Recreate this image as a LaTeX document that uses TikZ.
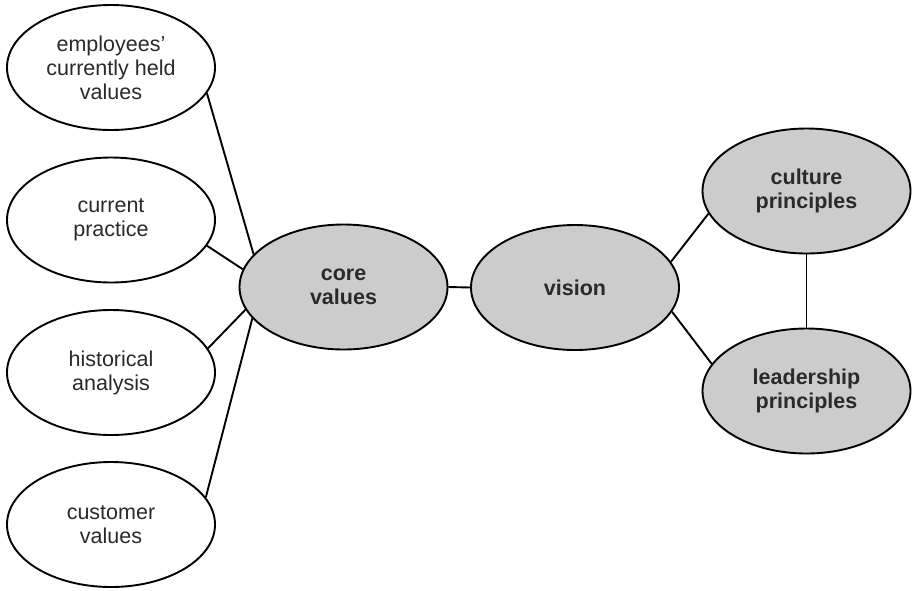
\documentclass[tikz,border=0pt]{standalone}
\usepackage{fontspec}
\setmainfont{Liberation Sans}
\usetikzlibrary{shapes.geometric}
\definecolor{fillgray}{HTML}{CCCCCC}
\definecolor{txt}{HTML}{2A2A2A}
\tikzset{
  oval/.style={ellipse, draw=black, line width=1.9pt, minimum width=208pt, minimum height=125pt,
    inner sep=0pt, align=center, text=txt, font=\fontsize{21.5}{24}\selectfont},
  whiteoval/.style={oval, fill=white},
  grayoval/.style={oval, fill=fillgray, font=\fontsize{21.5}{24}\selectfont\bfseries},
  link/.style={draw=black, line width=1.9pt}
}
\begin{document}
\begin{tikzpicture}[x=1pt,y=-1pt]
\useasboundingbox (0,0) rectangle (912,590);
\node[whiteoval] (emp) at (111,67.5) {employees'\\currently held\\values};
\node[whiteoval] (cur) at (111,220) {current\\practice};
\node[whiteoval] (his) at (111,372.5) {historical\\analysis};
\node[whiteoval] (cus) at (111,524.5) {customer\\values};
\node[grayoval] (core) at (343.5,287) {core\\values};
\node[grayoval] (vis) at (575,287.5) {vision};
\node[grayoval] (cul) at (806.5,191) {culture\\principles};
\node[grayoval] (lea) at (806.5,391) {leadership\\principles};
\draw[link] (emp.-15.6) -- (core.160.3);
\draw[link] (cur.-15) -- (core.170.4);
\draw[link] (his.14.7) -- (core.193.1);
\draw[link] (cus.16) -- (core.199.1);
\draw[link] (core.east) -- (vis.west);
\draw[link] (vis.15) -- (cul.193.7);
\draw[link] (vis.-14.8) -- (lea.164.9);
\draw[link] (cul.south) -- (lea.north);
\end{tikzpicture}
\end{document}
